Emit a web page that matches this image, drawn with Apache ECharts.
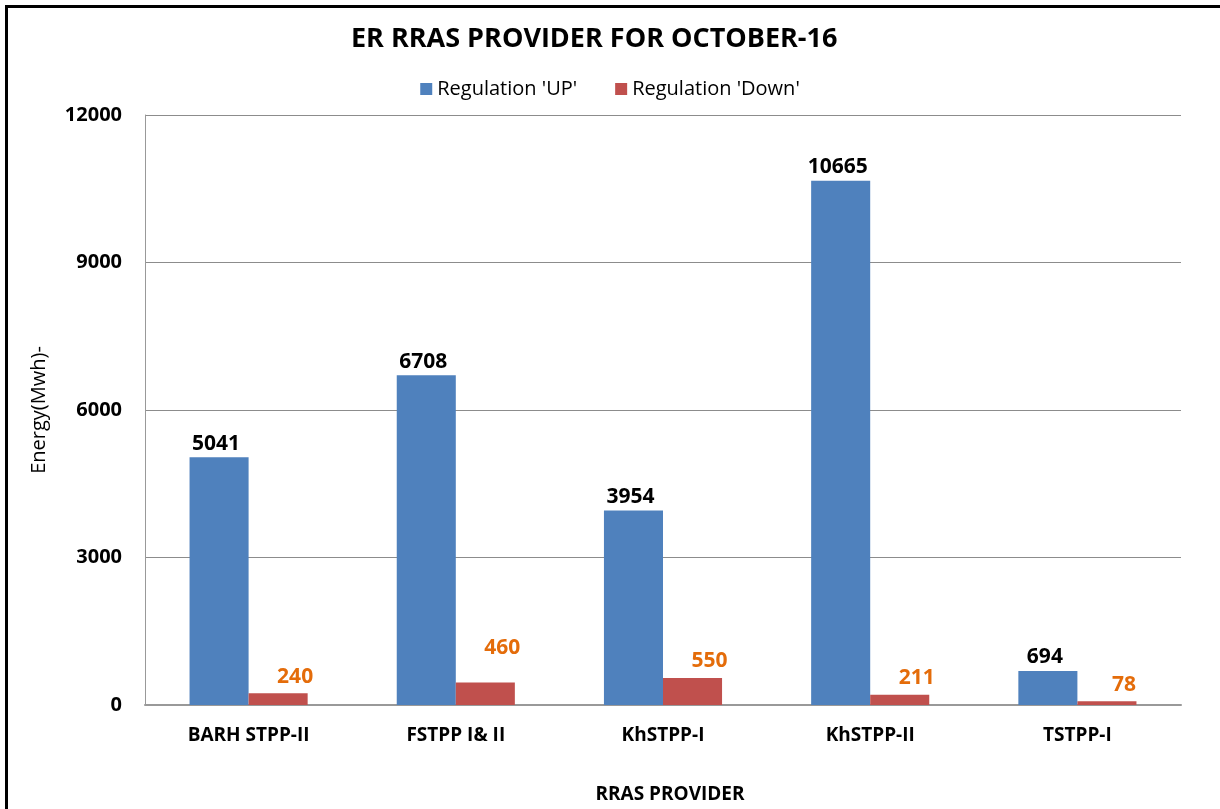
<!DOCTYPE html>
<html>
<head>
<meta charset="utf-8">
<script src="https://cdn.jsdelivr.net/npm/echarts@6/dist/echarts.min.js"></script>
<style>
  html, body { margin: 0; padding: 0; background: #fff; }
  #frame {
    position: absolute; left: 5px; top: 5px; width: 1215px; height: 820px;
    border-left: 3px solid #000; border-top: 3px solid #000; box-sizing: border-box;
  }
  #chart { position: absolute; left: 0; top: 0; width: 1220px; height: 809px; }
</style>
</head>
<body>
<div id="frame"></div>
<div id="chart"></div>
<script>
const categories = ['BARH STPP-II', 'FSTPP I& II', 'KhSTPP-I', 'KhSTPP-II', 'TSTPP-I'];
const regulationUp = [5041, 6708, 3954, 10665, 694];
const regulationDown = [240, 460, 550, 211, 78];
const yTicks = [0, 3000, 6000, 9000, 12000];

const font = '"Open Sans", "Liberation Sans", sans-serif';

const chart = echarts.init(document.getElementById('chart'));

// the 460 label sits higher than the others in the original
const downData = regulationDown.map((v, i) => {
  if (i === 1) return { value: v, label: { distance: 24 } };
  return v;
});

chart.setOption({
  animation: false,
  textStyle: { fontFamily: font },
  title: {
    text: 'ER RRAS PROVIDER FOR OCTOBER-16',
    left: 346,
    top: 21,
    textStyle: { fontFamily: font, fontSize: 27, fontWeight: 'bold', color: '#000' },
  },
  legend: {
    top: 74,
    left: 'center',
    itemWidth: 12,
    itemHeight: 12,
    itemGap: 38,
    icon: 'rect',
    textStyle: { fontFamily: font, fontSize: 20, color: '#000' },
    data: ["Regulation 'UP'", "Regulation 'Down'"],
  },
  grid: { left: 145, right: 39, top: 115, bottom: 102, containLabel: false },
  xAxis: {
    type: 'category',
    data: categories,
    name: 'RRAS PROVIDER',
    nameLocation: 'middle',
    nameGap: 80,
    nameTextStyle: {
      fontFamily: font, fontSize: 19, fontWeight: 'bold', color: '#000',
      padding: [0, 0, 0, 14],
    },
    axisLine: { show: true, lineStyle: { color: '#999', width: 2 } },
    axisTick: { show: false },
    axisLabel: { fontFamily: font, fontSize: 19, fontWeight: 'bold', color: '#000', margin: 21 },
  },
  yAxis: {
    type: 'value',
    min: yTicks[0],
    max: yTicks[yTicks.length - 1],
    interval: 3000,
    name: 'Energy(Mwh)-',
    nameLocation: 'middle',
    nameGap: 96,
    nameRotate: 90,
    nameTextStyle: { fontFamily: font, fontSize: 20, color: '#000' },
    axisLine: { show: true, lineStyle: { color: '#999', width: 1 } },
    axisTick: { show: false },
    axisLabel: {
      fontFamily: font, fontSize: 20, fontWeight: 'bold', color: '#000', margin: 23,
      formatter: (v) => String(v),
    },
    splitLine: { lineStyle: { color: '#8c8c8c', width: 1 } },
  },
  series: [
    {
      name: "Regulation 'UP'",
      type: 'bar',
      data: regulationUp,
      barGap: '0%',
      barCategoryGap: '43%',
      itemStyle: { color: '#4F81BD' },
      label: {
        show: true,
        position: 'top',
        distance: 3,
        offset: [-3, 0],
        fontFamily: font,
        fontSize: 21,
        fontWeight: 'bold',
        color: '#000',
      },
    },
    {
      name: "Regulation 'Down'",
      type: 'bar',
      data: downData,
      itemStyle: { color: '#C0504D' },
      label: {
        show: true,
        position: 'top',
        distance: 6,
        offset: [17, 0],
        fontFamily: font,
        fontSize: 21,
        fontWeight: 'bold',
        color: '#E46C0A',
      },
    },
  ],
});
</script>
</body>
</html>
